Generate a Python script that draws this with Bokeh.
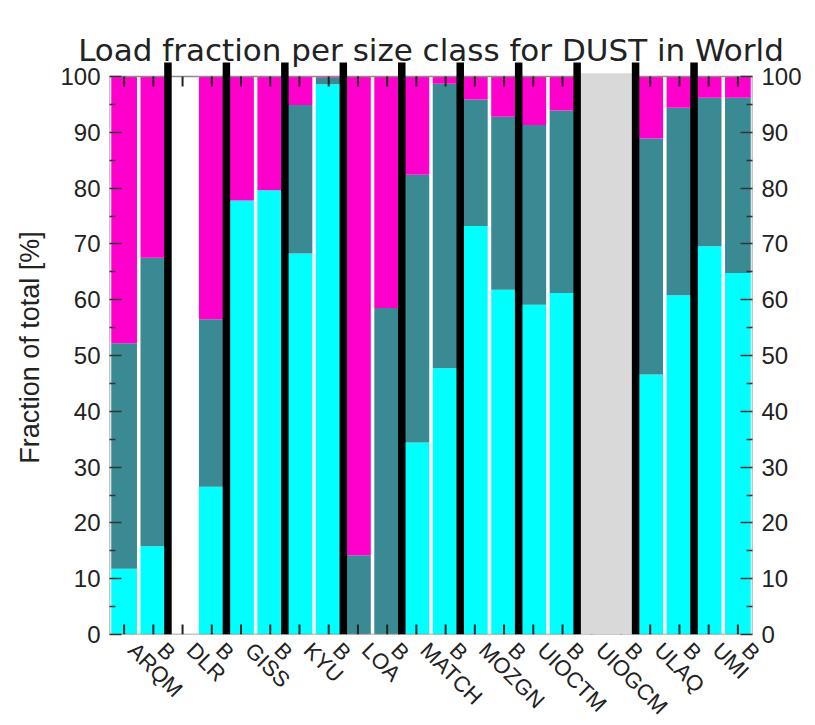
import math
from bokeh.plotting import figure
from bokeh.models import ColumnDataSource, Range1d, FixedTicker, LinearAxis, Title
from bokeh.embed import file_html
from bokeh.resources import INLINE

nan = float("nan")

# ---- data (percent of total load per size class) ----
labels = ["ARQM", "B", "DLR", "B", "GISS", "B", "KYU", "B", "LOA", "B",
          "MATCH", "B", "MOZGN", "B", "UIOCTM", "B", "UIOGCM", "B",
          "ULAQ", "B", "UMI", "B"]
fine   = [11.8, 15.8, nan, 26.5, 77.8, 79.6, 68.3, 98.6, 0.0, 0.0,
          34.4, 47.7, 73.2, 61.8, 59.1, 61.2, nan, nan, 46.6, 60.8, 69.6, 64.8]
medium = [40.4, 51.7, nan, 30.0, 0.0, 0.0, 26.6, 1.2, 14.2, 58.5,
          48.0, 51.0, 22.7, 31.0, 32.2, 32.7, nan, nan, 42.3, 33.6, 26.6, 31.4]
coarse = [47.8, 32.5, nan, 43.5, 22.2, 20.4, 5.1, 0.2, 85.8, 41.5,
          17.6, 1.3, 4.1, 7.2, 8.7, 6.1, nan, nan, 11.1, 5.6, 3.8, 3.8]
missing_model = "UIOGCM"
y_ticks = [0, 10, 20, 30, 40, 50, 60, 70, 80, 90, 100]
y_minor = [5, 15, 25, 35, 45, 55, 65, 75, 85, 95]
title_text = "Load fraction per size class for DUST in World"
ylabel_text = "Fraction of total [%]"

CYAN, TEAL, MAGENTA = "#00ffff", "#3a8a93", "#ff00cc"

n = len(labels)
xs = list(range(1, n + 1))
src = ColumnDataSource(dict(x=xs, fine=fine, medium=medium, coarse=coarse))

FW, FH = 643, 574
YTOP = 102.87
px_x = FW / n
px_y = FH / YTOP
LAB_SHIFT = 8  # px shift of rotated x labels to the right

p = figure(frame_width=FW, frame_height=FH,
           x_range=Range1d(0.5, n + 0.5), y_range=Range1d(0, YTOP),
           output_backend="svg", toolbar_location=None,
           min_border_left=105, min_border_right=59,
           min_border_top=60, min_border_bottom=83,
           x_axis_location=None)
p.outline_line_color = None
p.grid.visible = False
p.background_fill_color = "white"
p.border_fill_color = "white"

p.title.text = title_text
p.title.align = "center"
p.title.text_font = "DejaVu Sans"
p.title.text_font_size = "31px"
p.title.text_font_style = "normal"
p.title.text_color = "#222222"
p.title.standoff = -14

p.vbar_stack(["fine", "medium", "coarse"], x="x", width=0.88,
             color=[CYAN, TEAL, MAGENTA], line_color=None, source=src)

# box
p.quad(left=[0.5], right=[n + 0.5], bottom=[0], top=[100],
       fill_color=None, line_color="#8a8a8a", line_width=1.5)

# inward x ticks at top and bottom
tl = 10 / px_y
p.segment(x0=xs, x1=xs, y0=[0] * n, y1=[tl] * n, line_color="#222222", line_width=2)
p.segment(x0=xs, x1=xs, y0=[100] * n, y1=[100 - tl] * n, line_color="#222222", line_width=2)

# grey block for missing model
gi = labels.index(missing_model) + 1
p.quad(left=[gi - 0.5], right=[gi + 1.5], bottom=[0], top=[100.6],
       fill_color="#d9d9d9", line_color=None)

# black separators between model pairs
sep = [i + 0.5 for i in range(2, n, 2)]
p.segment(x0=sep, x1=sep, y0=[0] * len(sep), y1=[102.5] * len(sep),
          line_color="black", line_width=7.5, line_cap="butt")

# x axis (labels only), on a range shifted so labels sit right of the ticks
sh = LAB_SHIFT / px_x
p.extra_x_ranges = {"lab": Range1d(0.5 - sh, n + 0.5 - sh)}
xa = LinearAxis(x_range_name="lab")
p.add_layout(xa, "below")
xa.ticker = FixedTicker(ticks=xs)
xa.major_label_overrides = {x: l for x, l in zip(xs, labels)}
xa.major_label_orientation = -math.pi / 4
xa.axis_line_color = None
xa.major_tick_line_color = None
xa.minor_tick_line_color = None
xa.major_label_text_font = "Liberation Sans"
xa.major_label_text_font_size = "22px"
xa.major_label_text_color = "#222222"
xa.major_label_standoff = 6

ra = LinearAxis()
p.add_layout(ra, "right")
for ax in (p.yaxis[0], ra):
    ax.ticker = FixedTicker(ticks=y_ticks, minor_ticks=y_minor)
    ax.axis_line_color = None
    ax.major_tick_in = 12
    ax.major_tick_out = 0
    ax.minor_tick_in = 6
    ax.minor_tick_out = 0
    ax.major_tick_line_color = "#333333"
    ax.minor_tick_line_color = "#333333"
    ax.major_tick_line_width = 1.5
    ax.minor_tick_line_width = 1.5
    ax.major_label_text_font = "Liberation Sans"
    ax.major_label_text_font_size = "24px"
    ax.major_label_text_color = "#222222"
    ax.major_label_standoff = 9

p.add_layout(Title(text=ylabel_text, align="center", offset=10, standoff=25,
                   text_font="Liberation Sans", text_font_size="27px",
                   text_font_style="normal", text_color="#222222"), "left")

open("out.html", "w").write(file_html(p, INLINE))
